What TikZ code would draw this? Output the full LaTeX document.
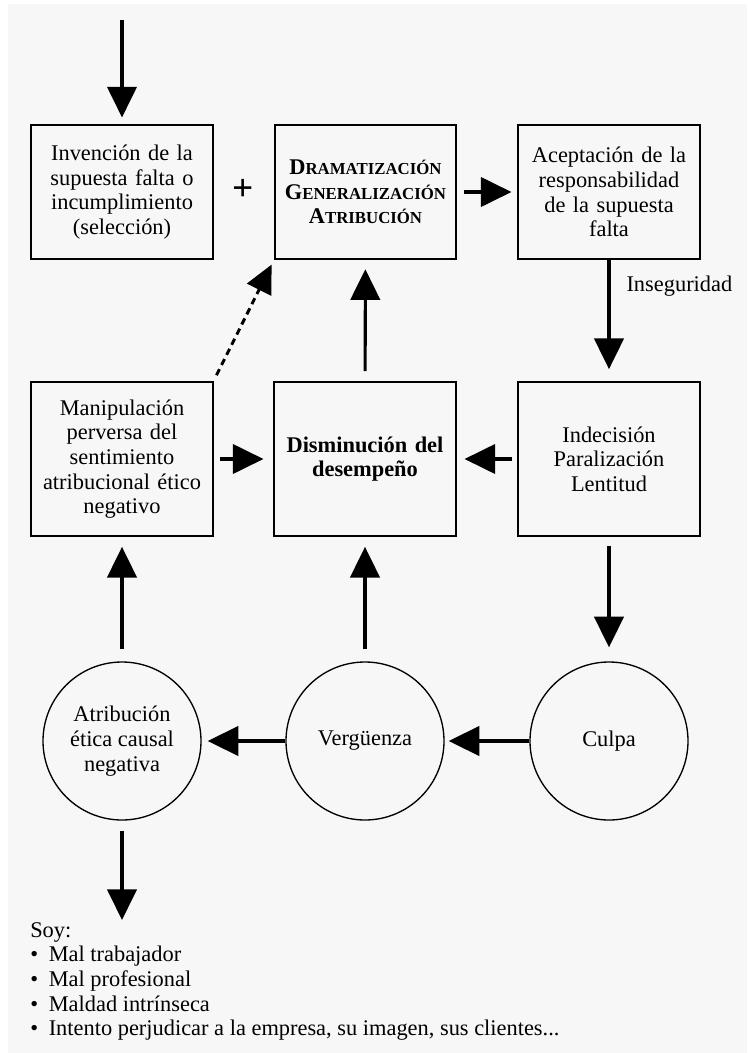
\documentclass[tikz,border=0pt]{standalone}
\usepackage{fontspec}
\setmainfont{Liberation Serif}
\usetikzlibrary{arrows.meta}
\definecolor{scanGray}{gray}{0.97}
% fake small caps: big first letter, smaller capitals after it
\newcommand{\capsc}[2]{#1{\fontsize{12.6}{18.5}\selectfont #2}}

\begin{document}
\begin{tikzpicture}[x=0.75pt, y=-0.75pt,
  font=\fontsize{16.8}{18.5}\selectfont,
  >={Triangle[width=22pt,length=23pt]},
  box/.style={draw, line width=1.3pt, align=center, inner sep=0pt,
    minimum width=136pt, text width=132pt},
  topbox/.style={box, minimum height=100.5pt},
  lowbox/.style={box, minimum height=115.5pt},
  ring/.style={draw, circle, line width=1pt, minimum size=118.5pt,
    align=center, inner sep=0pt},
  flow/.style={->, line width=2.3pt}]
\useasboundingbox (0,0) rectangle (747,1053);
\fill[scanGray] (8,4) rectangle (747,1053);

% ---------- Row 1: the supposed fault ----------
\node[topbox] (invencion) at (122,192)
  {Invención de la\\ supuesta falta o\\ incumplimiento\\ (selección)};
\node[topbox] (dramat) at (365.5,192)
  {\textbf{\capsc{D}{RAMATIZACIÓN}\\ \capsc{G}{ENERALIZACIÓN}\\ \capsc{A}{TRIBUCIÓN}}};
\node[topbox] (acept) at (609,192)
  {Aceptación de la\\ responsabilidad\\ de la supuesta\\ falta};
\node[font=\fontsize{28}{28}\selectfont\bfseries] (mas) at (243,190) {+};

% ---------- Row 2: the consequences ----------
\node[lowbox] (manip) at (122,459)
  {Manipulación\\ perversa del\\ sentimiento\\ atribucional ético\\ negativo};
\node[lowbox] (dismin) at (365,459) {\textbf{Disminución del}\\ \textbf{desempeño}};
\node[lowbox] (indec) at (609,459) {Indecisión\\ Paralización\\ Lentitud};

% ---------- Row 3: the feelings ----------
\node[ring] (atrib) at (122,741) {Atribución\\ ética causal\\ negativa};
\node[ring] (verg) at (365,741) {Vergüenza};
\node[ring] (culpa) at (609,741) {Culpa};

% the list under the last circle
\node[anchor=north west, align=left, inner sep=0pt] (soy) at (30,922)
  {Soy:\\
   \textbullet\hspace{8pt}Mal trabajador\\
   \textbullet\hspace{8pt}Mal profesional\\
   \textbullet\hspace{8pt}Maldad intrínseca\\
   \textbullet\hspace{8pt}Intento perjudicar a la empresa, su imagen, sus clientes...};

\coordinate (entrada) at (122,20);
\coordinate (salida) at (122,920);

% ---------- connectors ----------
\draw[flow, shorten >=5pt] (entrada) -- (invencion);
\draw[flow, shorten <=5pt, shorten >=4.5pt] (dramat) -- (acept);
\draw[flow, shorten >=9pt] (acept) -- (indec)
  node[pos=0.22, right=12pt, inner sep=0pt] (inseg) {Inseguridad};
\draw[flow, shorten <=7.5pt, shorten >=7pt] (dismin) -- (dramat);
\draw[->, line width=2.2pt, dash pattern=on 5pt off 3.5pt,
  >={Triangle[width=20pt,length=21pt]}, shorten <=5pt, shorten >=4pt]
  (manip.north east) -- (dramat.south west);
\draw[flow, shorten <=4.5pt, shorten >=7.5pt] (manip) -- (dismin);
\draw[flow, shorten <=3.75pt, shorten >=6pt] (indec) -- (dismin);
\draw[flow, shorten <=9pt, shorten >=7.5pt] (atrib) -- (manip);
\draw[flow, shorten <=9pt, shorten >=7.5pt] (verg) -- (dismin);
\draw[flow, shorten <=6.75pt, shorten >=10.5pt] (indec) -- (culpa);
\draw[flow, shorten >=3pt] (culpa) -- (verg);
\draw[flow, shorten >=4.5pt] (verg) -- (atrib);
\draw[flow, shorten <=7.5pt] (atrib) -- (salida);
\end{tikzpicture}
\end{document}
